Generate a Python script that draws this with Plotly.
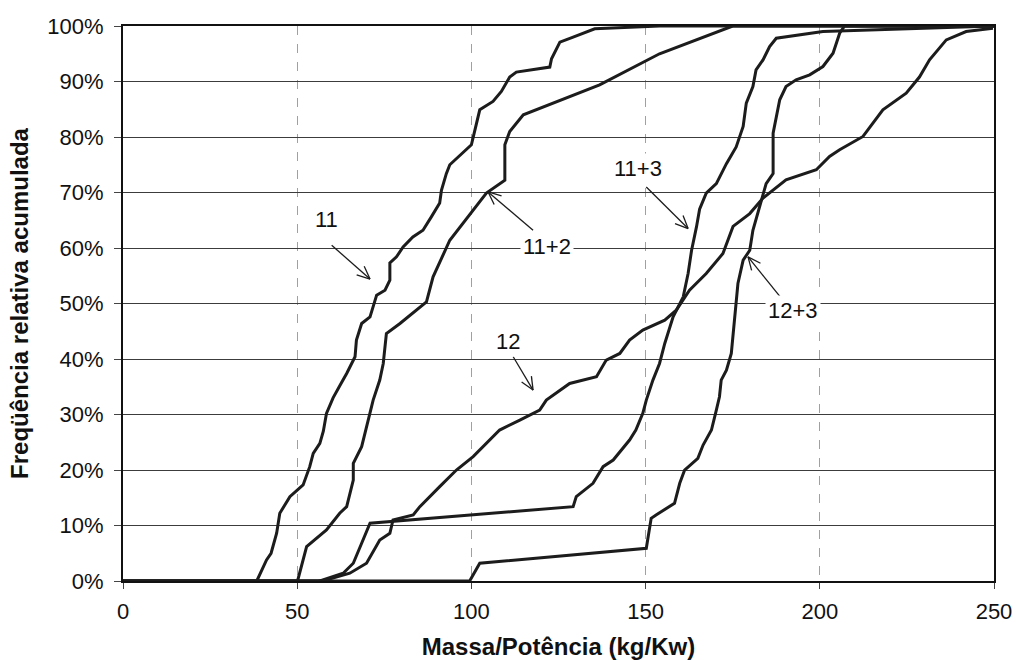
import math
import plotly.graph_objects as go

# Cumulative relative frequency curves: mass/power ratio (kg/kW) vs. cumulative %
x_11 = [0, 38.4, 41.2, 42.5, 44.1, 45.0, 47.9, 51.7, 53.6, 54.6, 56.5, 57.5, 58.4, 60.3, 62.5,
        64.2, 66.6, 67.0, 68.5, 70.9, 72.8, 75.2, 76.6, 76.6, 78.5, 80.4, 83.2, 86.1, 88.5,
        90.9, 91.4, 92.8, 93.8, 97.6, 100.0, 102.4, 106.2, 108.6, 111.0, 112.9, 122.5, 123.0,
        125.4, 129.2, 135.4, 154.0, 250]
y_11 = [0, 0, 3.8, 5.0, 8.6, 12.2, 15.2, 17.3, 20.6, 23.0, 24.8, 27.0, 30.2, 33.0, 35.5,
        37.4, 40.4, 43.4, 46.4, 47.6, 51.5, 52.4, 54.2, 57.3, 58.4, 60.2, 62.0, 63.2, 65.6,
        68.1, 70.4, 73.4, 75.0, 77.3, 78.6, 84.9, 86.4, 88.2, 90.8, 91.7, 92.6, 94.1,
        97.1, 98.0, 99.5, 100, 100]

x_11_2 = [0, 50.1, 52.7, 58.4, 62.2, 64.2, 66.1, 66.1, 68.5, 70.9, 71.8, 73.7, 74.7, 75.6,
          79.5, 87.1, 89.0, 93.8, 99.5, 104.3, 109.6, 109.6, 111.0, 114.9, 136.8, 154.0,
          175.0, 250]
y_11_2 = [0, 0, 6.2, 9.2, 12.2, 13.4, 18.2, 21.2, 24.2, 30.2, 32.6, 36.2, 39.2, 44.6,
          46.4, 50.3, 54.8, 61.4, 65.9, 69.9, 72.2, 78.6, 81.0, 84.0, 89.4, 95.0,
          100, 100]

x_12 = [0, 56.0, 58.4, 65.1, 69.9, 73.7, 76.6, 77.5, 83.3, 85.2, 90.9, 95.7, 100.5, 104.3,
        108.1, 113.9, 119.6, 121.5, 128.2, 135.9, 138.7, 142.6, 145.4, 149.2, 155.5, 158.8,
        160.3, 162.6, 167.4, 172.2, 175.1, 179.9, 183.7, 190.3, 199.0, 202.8, 205.7, 212.4,
        218.1, 224.8, 228.6, 231.5, 236.3, 242.0, 249.7]
y_12 = [0, 0, 0.2, 1.4, 3.2, 7.4, 8.6, 11.0, 11.9, 13.4, 17.0, 20.0, 22.4, 24.8,
        27.2, 29.0, 30.8, 32.6, 35.6, 36.8, 39.8, 41.0, 43.4, 45.2, 47.0, 48.8,
        50.3, 52.4, 55.4, 59.0, 63.9, 66.2, 69.0, 72.3, 74.1, 76.5, 77.7, 80.1,
        84.9, 87.9, 90.8, 93.9, 97.5, 99.0, 99.6]

x_11_3 = [0, 56.5, 63.2, 66.1, 68.5, 70.9, 129.2, 130.1, 134.9, 137.8, 140.7, 145.4, 147.2,
          149.2, 150.2, 152.1, 154.0, 155.5, 157.9, 160.8, 162.2, 163.2, 164.6, 165.5, 167.4,
          170.3, 173.2, 176.0, 178.0, 178.9, 180.8, 181.7, 183.7, 185.6, 187.5, 200.9, 250]
y_11_3 = [0, 0, 1.4, 3.2, 6.8, 10.4, 13.4, 15.2, 17.6, 20.6, 21.8, 25.4, 27.2,
          30.2, 32.6, 36.2, 39.2, 42.8, 47.6, 51.2, 55.4, 59.6, 63.8, 67.0, 69.9,
          71.6, 75.2, 78.2, 81.9, 86.1, 89.1, 92.1, 93.9, 96.3, 97.8, 99.0, 100]

x_12_3 = [0, 99.5, 102.4, 150.2, 151.6, 153.0, 158.3, 159.8, 161.2, 165.0, 166.5, 168.9,
          170.3, 171.2, 171.7, 173.2, 174.6, 175.6, 176.5, 178.0, 179.9, 180.8, 182.7, 184.6,
          186.6, 186.6, 188.5, 190.3, 193.2, 197.1, 200.9, 203.8, 205.7, 207.1, 250]
y_12_3 = [0, 0, 3.2, 5.9, 11.3, 11.9, 14.0, 17.6, 20.0, 22.1, 24.5, 27.2,
          30.8, 33.2, 36.2, 38.0, 41.0, 47.6, 53.6, 57.8, 59.6, 63.2, 67.4, 71.6,
          73.4, 80.7, 86.7, 89.1, 90.3, 91.2, 92.7, 95.1, 98.7, 100, 100]

series = [
    ("11", x_11, y_11),
    ("11+2", x_11_2, y_11_2),
    ("12", x_12, y_12),
    ("11+3", x_11_3, y_11_3),
    ("12+3", x_12_3, y_12_3),
]

# Curve labels: text position and arrow (tail -> tip), in data units
label_text = ["11", "11+2", "11+3", "12+3", "12"]
label_pos = [(58.4, 65.2), (121.8, 60.3), (147.8, 74.4), (192.3, 48.8), (110.5, 43.1)]
arrow_tail = [(59.9, 60.5), (117.7, 63.2), (150.2, 71.0), (189.4, 50.6), (112.0, 40.4)]
arrow_tip = [(70.9, 54.4), (104.8, 70.1), (162.2, 63.5), (179.4, 58.4), (117.7, 34.4)]

x_ticks = [0, 50, 100, 150, 200, 250]
y_ticks = [0, 10, 20, 30, 40, 50, 60, 70, 80, 90, 100]

W, H = 1016, 660
ML, MR, MT, MB = 123, 22, 26, 79
X_RANGE = (0, 250)
Y_RANGE = (0, 100)
XS = (W - ML - MR) / (X_RANGE[1] - X_RANGE[0])   # px per x unit
YS = (H - MT - MB) / (Y_RANGE[1] - Y_RANGE[0])   # px per y unit

LINE_COLOR = "#1c1c1c"
FONT = "Liberation Sans, Arial, sans-serif"

fig = go.Figure()
for name, xs, ys in series:
    fig.add_trace(go.Scatter(
        x=xs, y=ys, mode="lines", name=name,
        line=dict(color=LINE_COLOR, width=3), showlegend=False,
    ))


def arrow_shapes(tail, tip, head_len=14, half_angle=24):
    """Shaft plus an open V head, built in pixel space and mapped back to data."""
    shapes = [dict(type="line", xref="x", yref="y",
                   x0=tail[0], y0=tail[1], x1=tip[0], y1=tip[1],
                   line=dict(color=LINE_COLOR, width=1.3), layer="above")]
    dx = (tail[0] - tip[0]) * XS
    dy = (tail[1] - tip[1]) * YS
    n = math.hypot(dx, dy)
    ux, uy = dx / n, dy / n
    for sgn in (-1, 1):
        a = math.radians(half_angle) * sgn
        rx = ux * math.cos(a) - uy * math.sin(a)
        ry = ux * math.sin(a) + uy * math.cos(a)
        hx = tip[0] + rx * head_len / XS
        hy = tip[1] + ry * head_len / YS
        shapes.append(dict(type="line", xref="x", yref="y",
                           x0=tip[0], y0=tip[1], x1=hx, y1=hy,
                           line=dict(color=LINE_COLOR, width=1.3), layer="above"))
    return shapes


shapes = []
for tail, tip in zip(arrow_tail, arrow_tip):
    shapes += arrow_shapes(tail, tip)

annotations = []
for txt, (lx, ly) in zip(label_text, label_pos):
    annotations.append(dict(
        x=lx, y=ly, xref="x", yref="y", text=txt, showarrow=False,
        font=dict(family=FONT, size=22, color="#111"),
        bgcolor="white", borderpad=2,
    ))

fig.update_layout(
    width=W, height=H,
    margin=dict(l=ML, r=MR, t=MT, b=MB, pad=0),
    paper_bgcolor="white", plot_bgcolor="white",
    font=dict(family=FONT, color="#111"),
    shapes=shapes, annotations=annotations,
    xaxis=dict(
        range=list(X_RANGE), tickvals=x_ticks, ticktext=[str(v) for v in x_ticks],
        showgrid=True, gridcolor="#a0a0a0", griddash="dash", gridwidth=1,
        zeroline=False, showline=True, mirror=True, linecolor="#111", linewidth=2,
        ticks="outside", ticklen=6, tickcolor="#444", ticklabelstandoff=4,
        automargin=False,
        tickfont=dict(family=FONT, size=22, color="#111"),
        title=dict(text="<b>Massa/Potência (kg/Kw)</b>", standoff=16,
                   font=dict(family=FONT, size=24, color="#111")),
    ),
    yaxis=dict(
        range=list(Y_RANGE), tickvals=y_ticks, ticktext=[f"{v}%" for v in y_ticks],
        showgrid=True, gridcolor="#3c3c3c", gridwidth=1,
        zeroline=False, showline=True, mirror=True, linecolor="#111", linewidth=2,
        ticks="outside", ticklen=7, tickcolor="#444", ticklabelstandoff=6,
        automargin=False,
        tickfont=dict(family=FONT, size=22, color="#111"),
        title=dict(text="<b>Freqüência relativa acumulada</b>", standoff=12,
                   font=dict(family=FONT, size=24, color="#111")),
    ),
)

fig.write_html("out.html")
